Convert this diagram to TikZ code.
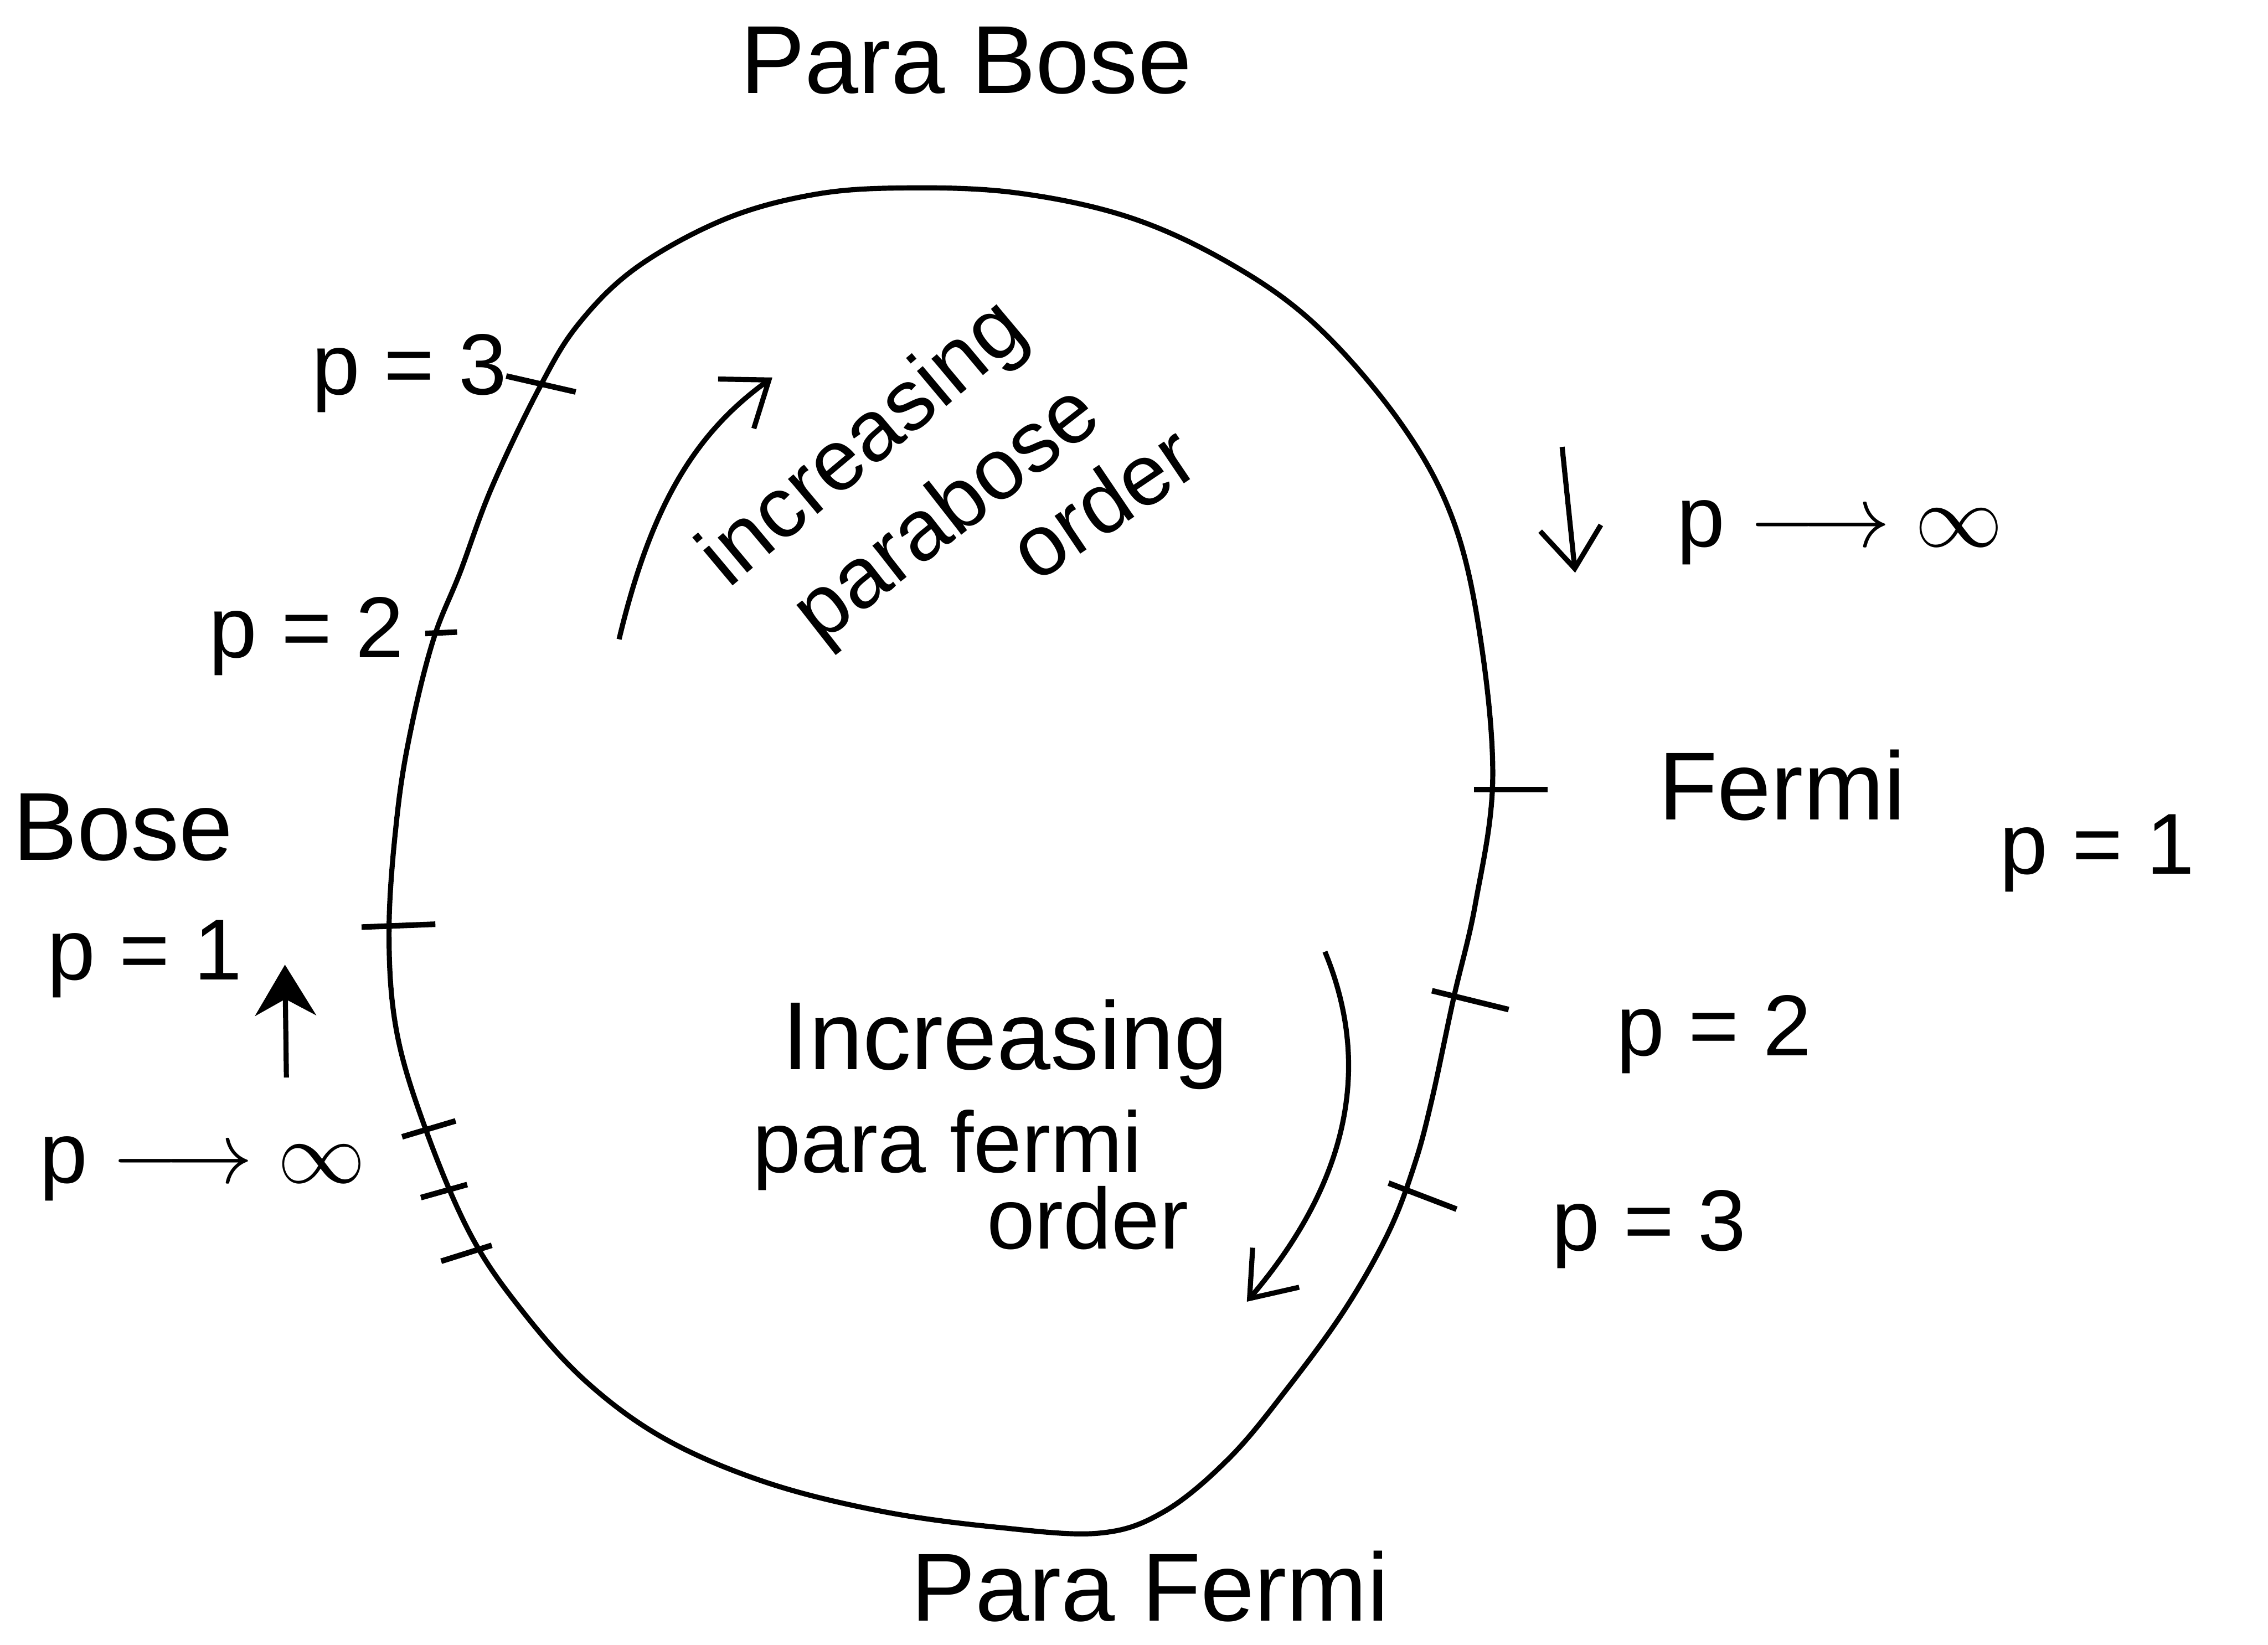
\documentclass[tikz,border=0pt]{standalone}
\usepackage{fontspec}
\setmainfont{Liberation Sans}
\usepackage{tikz}
\usetikzlibrary{arrows.meta}

\begin{document}
\begin{tikzpicture}[
  x=0.01cm, y=-0.01cm,
  line width=1pt,
  hand/.style={font=\fontsize{19}{22}\selectfont, inner sep=1pt, align=center},
  note/.style={font=\fontsize{17}{20}\selectfont, inner sep=1pt},
  pval/.style={font=\fontsize{17}{20}\selectfont, inner sep=1pt},
  tick/.style={line width=1.1pt},
  barb/.style={-{Straight Barb[length=8pt, width=12pt, line width=1pt]}},
  solid arrow/.style={-{Stealth[length=10pt, width=12pt]}}
]
\useasboundingbox (0,0) rectangle (1568,1137);

% the closed curve
\draw plot[smooth cycle, tension=0.6] coordinates {
  (620,130) (700,133) (780,150) (850,182) (910,225) (968,292) (1004,358)
  (1023,438) (1032,539) (1020,625) (1005,690) (990,760) (978,805)
  (960,852) (930,905) (890,960) (850,1008) (805,1045) (760,1060) (690,1056)
  (610,1045) (530,1025) (460,995) (405,955) (360,905) (325,853) (294,780)
  (274,712) (269,641) (275,560) (285,500) (300,441) (318,396) (340,337)
  (373,268) (400,224) (440,185) (500,152) (560,135)};

% ticks
\coordinate (t3La) at (350,260); \coordinate (t3Lb) at (398,271);
\coordinate (t2La) at (294,438); \coordinate (t2Lb) at (316,437);
\coordinate (t1La) at (250,641); \coordinate (t1Lb) at (301,639);
\coordinate (tiLa) at (278,786); \coordinate (tiLb) at (315,775);
\coordinate (tjLa) at (291,828); \coordinate (tjLb) at (323,819);
\coordinate (tkLa) at (305,872); \coordinate (tkLb) at (340,861);
\coordinate (t1Ra) at (1019,546); \coordinate (t1Rb) at (1070,546);
\coordinate (t2Ra) at (990,685); \coordinate (t2Rb) at (1043,698);
\coordinate (t3Ra) at (960,818); \coordinate (t3Rb) at (1007,836);
\foreach \t in {t3L, t2L, t1L, tiL, tjL, tkL, t1R, t2R, t3R}
  \draw[tick] (\t a) -- (\t b);

% labels
\node[hand] (pbose) at (668,42) {Para Bose};
\node[hand] (pfermi) at (795,1097) {Para Fermi};
\node[hand] (bose) at (85,572) {Bose};
\node[hand] (fermi) at (1232,543) {Fermi};
\node[pval] (p3L) at (283,258) {p = 3};
\node[pval] (p2L) at (212,440) {p = 2};
\node[pval] (p1L) at (100,663) {p = 1};
\node[pval] (pinfL) at (140,808) {p $\longrightarrow \infty$};
\node[pval] (pinfR) at (1272,368) {p $\longrightarrow \infty$};
\node[pval] (p1R) at (1450,590) {p = 1};
\node[pval] (p2R) at (1185,715) {p = 2};
\node[pval] (p3R) at (1140,850) {p = 3};

\node[hand] (incF) at (695,722) {Increasing};
\node[note] (paraF) at (655,795) {para fermi};
\node[note] (ordF) at (752,842) {order};
\node[note, rotate=40] (incB) at (598,308) {increasing};
\node[note, rotate=38] (paraB) at (656,357) {parabose};
\node[note, rotate=34] (ordB) at (762,347) {order};

% arrows
\coordinate (bA) at (428,442); \coordinate (bB) at (534,261);
\draw[barb] (bA) .. controls (450,350) and (480,300) .. (bB);
\coordinate (fA) at (916,658); \coordinate (fB) at (862,900);
\draw[barb] (fA) .. controls (950,740) and (930,820) .. (fB);
\coordinate (dA) at (1080,309); \coordinate (dB) at (1089,396);
\draw[barb] (dA) -- (dB);
\coordinate (uA) at (198,745); \coordinate (uB) at (197,667);
\draw[solid arrow] (uA) -- (uB);
\end{tikzpicture}
\end{document}
